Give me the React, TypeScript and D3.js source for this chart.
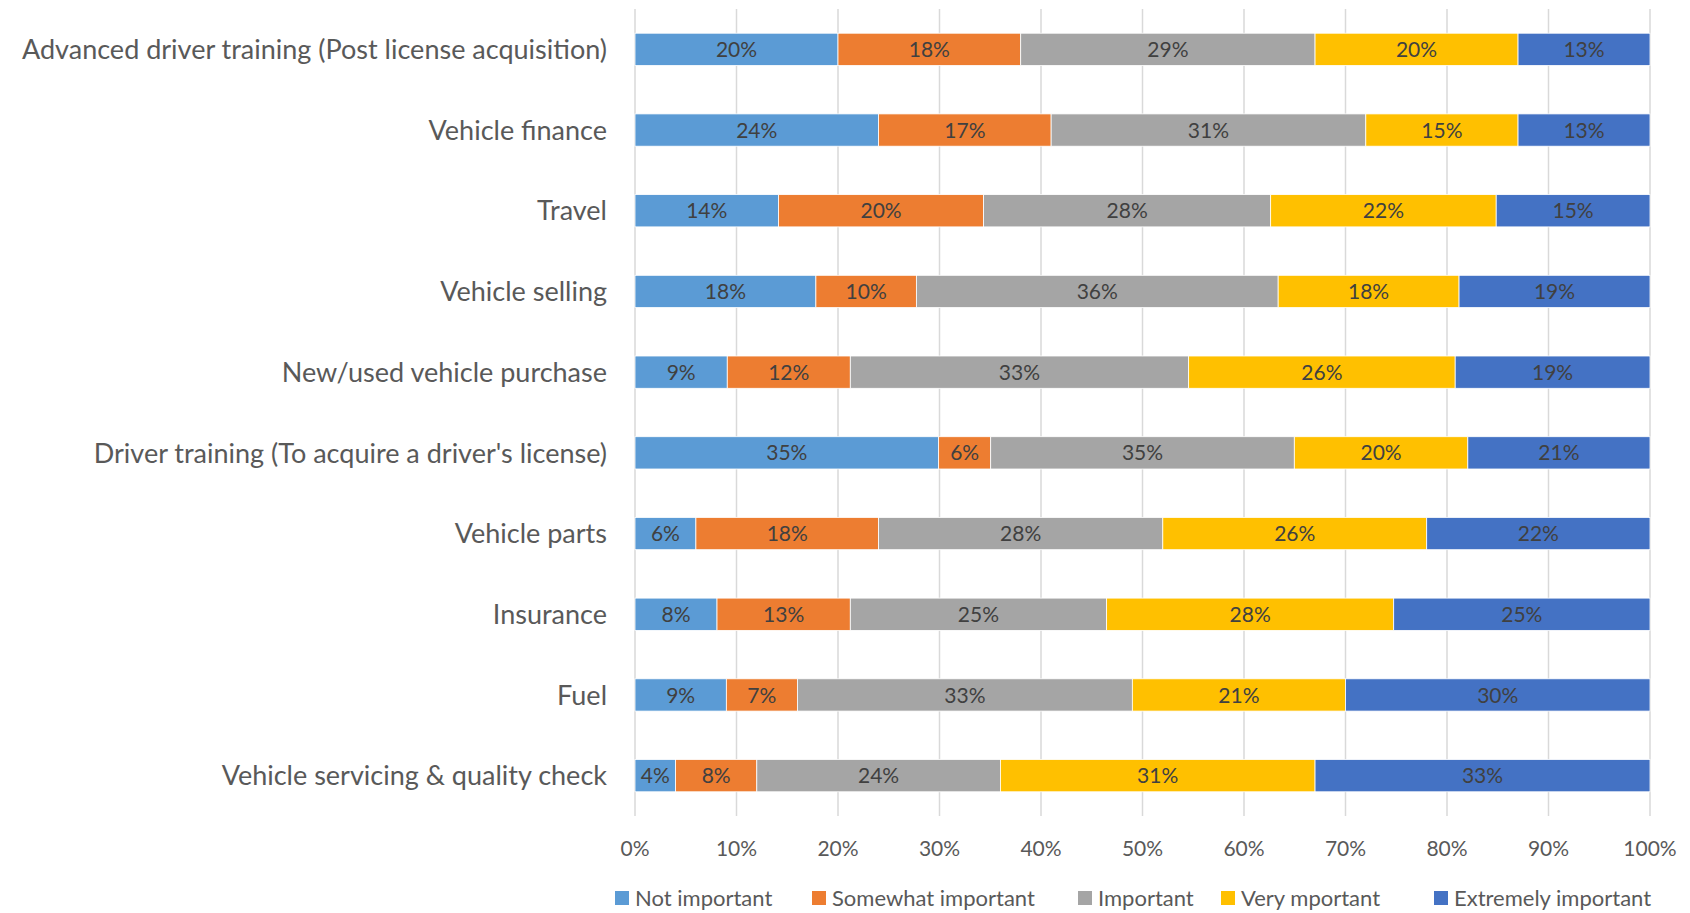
import React, { useEffect, useRef } from 'react';
import * as d3 from 'd3';

const categories = [
  'Advanced driver training (Post license acquisition)',
  'Vehicle finance',
  'Travel',
  'Vehicle selling',
  'New/used vehicle purchase',
  "Driver training (To acquire a driver's license)",
  'Vehicle parts',
  'Insurance',
  'Fuel',
  'Vehicle servicing & quality check',
];

const seriesNames = ['Not important', 'Somewhat important', 'Important', 'Very mportant', 'Extremely important'];
const seriesColors = ['#5B9BD5', '#ED7D31', '#A5A5A5', '#FFC000', '#4472C4'];

const notImportant = [20, 24, 14, 18, 9, 35, 6, 8, 9, 4];
const somewhatImportant = [18, 17, 20, 10, 12, 6, 18, 13, 7, 8];
const important = [29, 31, 28, 36, 33, 35, 28, 25, 33, 24];
const veryImportant = [20, 15, 22, 18, 26, 20, 26, 28, 21, 31];
const extremelyImportant = [13, 13, 15, 19, 19, 21, 22, 25, 30, 33];

const xTicks = [0, 0.1, 0.2, 0.3, 0.4, 0.5, 0.6, 0.7, 0.8, 0.9, 1];

const W = 1690;
const H = 913;
const FONT = 'Lato, "Open Sans", sans-serif';

const App: React.FC = () => {
  const svgRef = useRef<SVGSVGElement>(null);

  useEffect(() => {
    if (!svgRef.current) return;
    const svg = d3.select(svgRef.current);
    svg.selectAll('*').remove();

    const margin = { top: 9, right: 40, bottom: 97, left: 635 };
    const x = d3.scaleLinear().domain([0, 1]).range([margin.left, W - margin.right]);
    const y = d3.scaleBand<string>().domain(categories).range([margin.top, H - margin.bottom]).paddingInner(0.6).paddingOuter(0.3);

    const cols = [notImportant, somewhatImportant, important, veryImportant, extremelyImportant];
    const rows = categories.map((c, i) => {
      const r: any = { cat: c };
      seriesNames.forEach((s, j) => (r[s] = cols[j][i]));
      return r;
    });
    const stacked = d3.stack<any>().keys(seriesNames).offset(d3.stackOffsetExpand)(rows);

    // gridlines
    svg.append('g')
      .selectAll('line')
      .data(xTicks)
      .enter().append('line')
      .attr('x1', d => x(d)).attr('x2', d => x(d))
      .attr('y1', margin.top).attr('y2', H - margin.bottom)
      .attr('stroke', '#D9D9D9')
      .attr('stroke-width', 1.5);

    // bars
    const layer = svg.append('g')
      .selectAll('g')
      .data(stacked)
      .enter().append('g')
      .attr('fill', (_d, i) => seriesColors[i]);

    layer.selectAll('rect')
      .data(d => d.map(p => ({ p, key: d.key })))
      .enter().append('rect')
      .attr('x', d => x(d.p[0]))
      .attr('width', d => x(d.p[1]) - x(d.p[0]))
      .attr('y', d => y(d.p.data.cat)!)
      .attr('height', y.bandwidth())
      .attr('stroke', '#fff')
      .attr('stroke-width', 0.8);

    layer.selectAll('text')
      .data(d => d.map(p => ({ p, key: d.key })))
      .enter().append('text')
      .attr('x', d => (x(d.p[0]) + x(d.p[1])) / 2)
      .attr('y', d => y(d.p.data.cat)! + y.bandwidth() / 2)
      .attr('dy', '0.36em')
      .attr('text-anchor', 'middle')
      .attr('font-family', FONT)
      .attr('font-size', 21)
      .attr('fill', '#404040')
      .text(d => `${d.p.data[d.key]}%`);

    // category labels
    svg.append('g')
      .selectAll('text')
      .data(categories)
      .enter().append('text')
      .attr('x', 607)
      .attr('y', d => y(d)! + y.bandwidth() / 2)
      .attr('dy', '0.36em')
      .attr('text-anchor', 'end')
      .attr('font-family', FONT)
      .attr('font-size', 27)
      .attr('fill', '#595959')
      .text(d => d);

    // x tick labels
    svg.append('g')
      .selectAll('text')
      .data(xTicks)
      .enter().append('text')
      .attr('x', d => x(d))
      .attr('y', 848)
      .attr('dy', '0.36em')
      .attr('text-anchor', 'middle')
      .attr('font-family', FONT)
      .attr('font-size', 21)
      .attr('fill', '#595959')
      .text(d => d3.format('.0%')(d));

    // legend
    const legendX = [615, 812, 1078, 1221, 1434];
    const leg = svg.append('g')
      .selectAll('g')
      .data(seriesNames)
      .enter().append('g')
      .attr('transform', (_d, i) => `translate(${legendX[i]},898)`);
    leg.append('rect')
      .attr('x', 0).attr('y', -7)
      .attr('width', 14).attr('height', 14)
      .attr('fill', (_d, i) => seriesColors[i]);
    leg.append('text')
      .attr('x', 20)
      .attr('dy', '0.36em')
      .attr('font-family', FONT)
      .attr('font-size', 22)
      .attr('fill', '#595959')
      .text(d => d);
  }, []);

  return (
    <div style={{ position: 'absolute', left: 0, top: 0 }}>
      <svg ref={svgRef} width={W} height={H} viewBox={`0 0 ${W} ${H}`} style={{ display: 'block', background: '#fff' }} />
    </div>
  );
};

export default App;
